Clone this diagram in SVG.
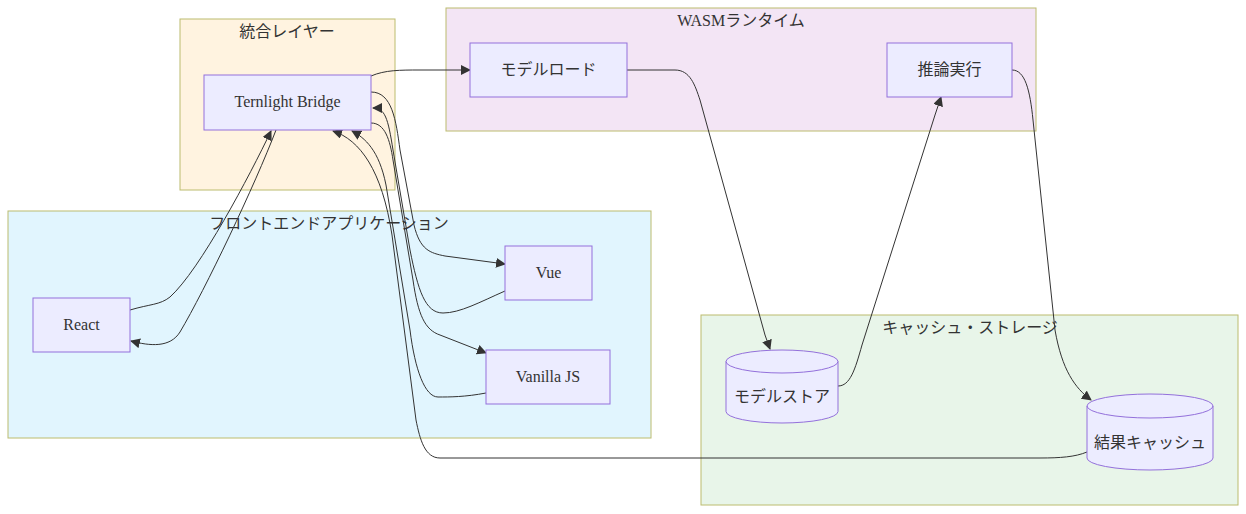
<svg xmlns="http://www.w3.org/2000/svg" width="1246" height="514" viewBox="0 0 1246 514">
<style>
text{font-family:"Liberation Serif","Noto Sans CJK JP",serif;font-size:16px;fill:#333;text-anchor:middle}
.cl{stroke:#bcbc6e;stroke-width:1}
.nd{fill:#ececff;stroke:#9370db;stroke-width:1}
.e{fill:none;stroke:#333;stroke-width:1}
.a{marker-end:url(#arr)}
</style>
<defs>
<marker id="arr" viewBox="0 0 10 10" refX="9" refY="5" markerWidth="10" markerHeight="10" markerUnits="userSpaceOnUse" orient="auto">
<path d="M0,0 L10,5 L0,10 z" fill="#333"/>
</marker>
</defs>
<rect fill="#fff" width="1246" height="514"/>
<g id="cluster-integration"><rect class="cl" x="180" y="19" width="215" height="171" fill="#fff3e0"/><text x="287" y="37">統合レイヤー</text></g>
<g id="cluster-wasm"><rect class="cl" x="446" y="8" width="590" height="123" fill="#f3e5f5"/><text x="741" y="26">WASMランタイム</text></g>
<g id="cluster-frontend"><rect class="cl" x="8" y="211" width="643" height="227" fill="#e1f5fe"/><text x="329" y="229">フロントエンドアプリケーション</text></g>
<g id="cluster-cache"><rect class="cl" x="701" y="315" width="537" height="190" fill="#e8f5e9"/><text x="970" y="333">キャッシュ・ストレージ</text></g>

<g id="edges">
<path class="e a" d="M130,310 C150,304 160,305 170,297 C200,270 250,175 271,131"/>
<path class="e a" d="M276,130 C255,185 205,290 180,332 C170,348 150,346 131,341"/>
<path class="e a" d="M371,92 C392,92 396,120 400,150 L414,225 C420,250 430,253 445,256 L505,264"/>
<path class="e a" d="M505,291 C480,302 460,313 443,313 C425,313 418,290 410,250 L393,150 C388,118 385,108 373,108"/>
<path class="e a" d="M371,123 C385,123 390,140 393,160 L413,280 C418,315 425,330 440,335 L486,353"/>
<path class="e a" d="M486,393 C465,397 450,397 438,397 C425,397 415,370 410,330 L386,185 C379,150 365,138 352,131"/>
<path class="e a" d="M1087,452 C1075,457 1060,458 1040,458 L440,458 C425,458 420,440 416,420 L392,235 C382,170 360,140 333,131"/>
<path class="e a" d="M371,76 C385,70 400,70 420,70 L470,70"/>
<path class="e a" d="M627,70 L675,70 C690,70 695,85 700,100 L765,335 L770,349"/>
<path class="e a" d="M838,386 C850,386 855,370 862,345 L935,115 L941,97"/>
<path class="e a" d="M1012,70 C1025,70 1030,90 1033,120 L1055,330 C1062,370 1075,388 1091,400"/>
</g>

<g id="node-bridge"><rect class="nd" x="204" y="75" width="167" height="55"/><text x="287.5" y="107">Ternlight Bridge</text></g>
<g id="node-modelload"><rect class="nd" x="470" y="43" width="157" height="54"/><text x="548.5" y="75">モデルロード</text></g>
<g id="node-inference"><rect class="nd" x="887" y="43" width="125" height="54"/><text x="949.5" y="75">推論実行</text></g>
<g id="node-react"><rect class="nd" x="33" y="298" width="97" height="54"/><text x="81.5" y="330">React</text></g>
<g id="node-vue"><rect class="nd" x="505" y="246" width="87" height="54"/><text x="548.5" y="278">Vue</text></g>
<g id="node-vanilla"><rect class="nd" x="486" y="350" width="124" height="54"/><text x="548" y="382">Vanilla JS</text></g>
<g id="node-modelstore"><path class="nd" d="M726,361.5 a56,11.5 0 0,0 112,0 a56,11.5 0 0,0 -112,0 l0,50 a56,11.5 0 0,0 112,0 l0,-50"/><text x="782" y="402">モデルストア</text></g>
<g id="node-resultcache"><path class="nd" d="M1087,406 a63,12 0 0,0 126,0 a63,12 0 0,0 -126,0 l0,52 a63,12 0 0,0 126,0 l0,-52"/><text x="1150" y="448">結果キャッシュ</text></g>
</svg>
